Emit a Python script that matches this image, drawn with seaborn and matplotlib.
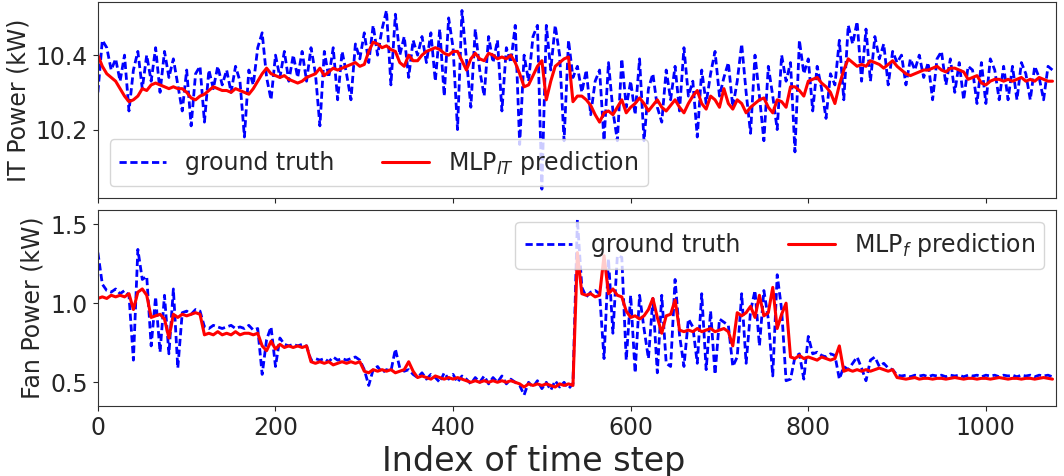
import numpy as np
import matplotlib
matplotlib.use("Agg")
import matplotlib.pyplot as plt
import seaborn as sns

STEP = 5

it_truth = [
    10.30, 10.44, 10.42, 10.36, 10.39, 10.33, 10.40, 10.25, 10.36, 10.41,
    10.31, 10.40, 10.33, 10.42, 10.30, 10.41, 10.34, 10.39, 10.32, 10.25,
    10.36, 10.21, 10.35, 10.37, 10.22, 10.36, 10.31, 10.37, 10.32, 10.36,
    10.30, 10.37, 10.33, 10.18, 10.36, 10.32, 10.42, 10.46, 10.34, 10.28,
    10.40, 10.34, 10.41, 10.33, 10.40, 10.34, 10.41, 10.33, 10.42, 10.35,
    10.21, 10.41, 10.34, 10.42, 10.28, 10.41, 10.35, 10.28, 10.43, 10.39,
    10.46, 10.38, 10.48, 10.40, 10.47, 10.52, 10.32, 10.51, 10.40, 10.45,
    10.34, 10.44, 10.40, 10.45, 10.38, 10.46, 10.33, 10.47, 10.29, 10.50,
    10.42, 10.20, 10.52, 10.39, 10.26, 10.47, 10.36, 10.29, 10.45, 10.38,
    10.44, 10.25, 10.42, 10.38, 10.48, 10.16, 10.40, 10.33, 10.45, 10.48,
    10.04, 10.48, 10.36, 10.48, 10.40, 10.17, 10.44, 10.34, 10.37, 10.30,
    10.36, 10.24, 10.33, 10.36, 10.17, 10.38, 10.25, 10.17, 10.39, 10.26,
    10.33, 10.24, 10.39, 10.17, 10.31, 10.35, 10.26, 10.22, 10.36, 10.28,
    10.37, 10.25, 10.42, 10.29, 10.33, 10.18, 10.36, 10.27, 10.35, 10.41,
    10.29, 10.34, 10.38, 10.26, 10.33, 10.43, 10.30, 10.19, 10.40, 10.29,
    10.17, 10.37, 10.29, 10.20, 10.40, 10.33, 10.38, 10.14, 10.44, 10.35,
    10.39, 10.25, 10.37, 10.31, 10.23, 10.35, 10.32, 10.44, 10.28, 10.48,
    10.43, 10.49, 10.33, 10.47, 10.33, 10.45, 10.39, 10.43, 10.32, 10.41,
    10.38, 10.40, 10.32, 10.39, 10.36, 10.40, 10.34, 10.38, 10.28, 10.39,
    10.41, 10.32, 10.39, 10.30, 10.38, 10.28, 10.37, 10.36, 10.27, 10.38,
    10.27, 10.39, 10.36, 10.28, 10.37, 10.28, 10.37, 10.28, 10.38, 10.35,
    10.28, 10.37, 10.34, 10.28, 10.37, 10.36,
]

it_pred = [
    10.40, 10.37, 10.35, 10.34, 10.33, 10.31, 10.29, 10.275, 10.28, 10.29,
    10.31, 10.305, 10.32, 10.325, 10.32, 10.315, 10.31, 10.315, 10.31, 10.31,
    10.30, 10.285, 10.28, 10.29, 10.295, 10.305, 10.315, 10.31, 10.305, 10.305,
    10.30, 10.31, 10.305, 10.30, 10.295, 10.31, 10.33, 10.35, 10.365, 10.35,
    10.345, 10.34, 10.345, 10.335, 10.33, 10.325, 10.33, 10.34, 10.345, 10.35,
    10.365, 10.345, 10.355, 10.365, 10.36, 10.365, 10.37, 10.375, 10.38, 10.37,
    10.375, 10.41, 10.435, 10.43, 10.42, 10.425, 10.415, 10.41, 10.38, 10.37,
    10.40, 10.385, 10.385, 10.40, 10.41, 10.415, 10.42, 10.415, 10.405, 10.40,
    10.41, 10.41, 10.385, 10.36, 10.39, 10.405, 10.39, 10.385, 10.405, 10.40,
    10.39, 10.395, 10.39, 10.40, 10.38, 10.35, 10.315, 10.32, 10.345, 10.37,
    10.385, 10.28, 10.33, 10.37, 10.38, 10.39, 10.395, 10.275, 10.29, 10.29,
    10.28, 10.265, 10.24, 10.22, 10.245, 10.25, 10.24, 10.26, 10.28, 10.245,
    10.26, 10.27, 10.285, 10.27, 10.25, 10.265, 10.28, 10.26, 10.25, 10.265,
    10.28, 10.26, 10.245, 10.27, 10.29, 10.305, 10.27, 10.255, 10.29, 10.28,
    10.26, 10.31, 10.27, 10.255, 10.28, 10.27, 10.245, 10.26, 10.27, 10.28,
    10.285, 10.26, 10.245, 10.28, 10.275, 10.26, 10.315, 10.315, 10.305, 10.29,
    10.33, 10.335, 10.34, 10.325, 10.315, 10.30, 10.27, 10.32, 10.36, 10.39,
    10.38, 10.37, 10.375, 10.37, 10.385, 10.38, 10.375, 10.365, 10.375, 10.385,
    10.37, 10.36, 10.35, 10.345, 10.35, 10.355, 10.36, 10.36, 10.365, 10.37,
    10.36, 10.355, 10.365, 10.365, 10.36, 10.355, 10.335, 10.34, 10.345, 10.325,
    10.32, 10.33, 10.335, 10.335, 10.33, 10.335, 10.33, 10.335, 10.34, 10.33,
    10.335, 10.33, 10.34, 10.335, 10.33, 10.33,
]

fan_truth = [
    1.32, 1.12, 1.08, 1.07, 1.09, 1.06, 1.08, 1.05, 0.64, 1.34,
    1.15, 1.17, 0.73, 1.04, 0.69, 1.05, 0.68, 1.09, 0.59, 0.94,
    0.95, 0.93, 0.96, 0.95, 0.85, 0.84, 0.86, 0.85, 0.84, 0.85,
    0.86, 0.84, 0.85, 0.84, 0.86, 0.83, 0.84, 0.55, 0.77, 0.85,
    0.60, 0.78, 0.74, 0.73, 0.74, 0.73, 0.74, 0.73, 0.64, 0.65,
    0.64, 0.65, 0.63, 0.66, 0.64, 0.65, 0.64, 0.65, 0.66, 0.64,
    0.58, 0.48, 0.58, 0.60, 0.56, 0.58, 0.57, 0.71, 0.59, 0.57,
    0.58, 0.55, 0.53, 0.56, 0.52, 0.55, 0.53, 0.50, 0.56, 0.52,
    0.55, 0.50, 0.54, 0.52, 0.49, 0.53, 0.50, 0.54, 0.49, 0.53,
    0.50, 0.54, 0.49, 0.52, 0.50, 0.48, 0.42, 0.50, 0.47, 0.51,
    0.46, 0.50, 0.45, 0.51, 0.47, 0.50, 0.46, 0.49, 1.53, 1.10,
    1.04, 1.07, 1.08, 1.06, 0.65, 1.28, 0.81, 1.30, 1.29, 0.64,
    1.05, 0.56, 1.05, 0.84, 0.65, 1.03, 0.56, 1.05, 0.62, 0.60,
    1.15, 0.80, 0.60, 0.90, 0.85, 0.62, 1.06, 0.58, 0.95, 0.55,
    0.90, 0.88, 0.86, 0.60, 0.66, 1.06, 0.62, 0.95, 1.08, 0.73,
    1.08, 0.90, 0.54, 1.18, 0.96, 0.51, 0.52, 0.66, 0.68, 0.52,
    0.79, 0.68, 0.69, 0.67, 0.66, 0.68, 0.67, 0.52, 0.60, 0.58,
    0.62, 0.66, 0.59, 0.51, 0.64, 0.66, 0.60, 0.62, 0.59, 0.58,
    0.545, 0.54, 0.545, 0.535, 0.545, 0.54, 0.545, 0.535, 0.545, 0.54,
    0.545, 0.535, 0.545, 0.54, 0.545, 0.535, 0.545, 0.54, 0.545, 0.535,
    0.545, 0.54, 0.545, 0.535, 0.545, 0.54, 0.545, 0.535, 0.545, 0.54,
    0.545, 0.535, 0.545, 0.54, 0.545, 0.535,
]

fan_pred = [
    1.03, 1.04, 1.03, 1.05, 1.04, 1.05, 1.04, 1.06, 0.96, 1.07,
    1.09, 1.05, 0.91, 0.92, 0.93, 0.90, 0.78, 0.93, 0.91, 0.93,
    0.92, 0.93, 0.94, 0.93, 0.80, 0.81, 0.80, 0.82, 0.80, 0.81,
    0.80, 0.82, 0.80, 0.81, 0.81, 0.80, 0.81, 0.73, 0.70, 0.76,
    0.71, 0.74, 0.72, 0.73, 0.72, 0.73, 0.72, 0.73, 0.63, 0.62,
    0.63, 0.62, 0.63, 0.61, 0.62, 0.63, 0.62, 0.63, 0.62, 0.63,
    0.57, 0.56, 0.58, 0.57, 0.58, 0.57, 0.58, 0.56, 0.57, 0.58,
    0.63, 0.57, 0.53, 0.54, 0.53, 0.52, 0.54, 0.53, 0.52, 0.53,
    0.52, 0.53, 0.52, 0.51, 0.50, 0.51, 0.50, 0.51, 0.50, 0.51,
    0.50, 0.51, 0.50, 0.51, 0.50, 0.49, 0.47, 0.49, 0.48, 0.49,
    0.48, 0.49, 0.48, 0.47, 0.49, 0.48, 0.49, 0.48, 1.32, 1.06,
    1.05, 1.06, 1.04, 1.05, 1.30, 1.06, 1.09, 1.05, 1.04, 0.95,
    0.91, 0.92, 0.90, 0.92, 0.96, 1.03, 0.91, 0.81, 0.92, 0.93,
    1.02, 0.83, 0.82, 0.83, 0.82, 0.84, 0.82, 0.83, 0.84, 0.82,
    0.83, 0.84, 0.82, 0.73, 0.94, 0.92, 0.94, 0.98, 0.91, 1.05,
    0.92, 0.94, 1.10, 0.84, 0.93, 1.00, 0.66, 0.65, 0.67, 0.65,
    0.66, 0.65, 0.64, 0.66, 0.65, 0.64, 0.65, 0.73, 0.57, 0.58,
    0.57, 0.58, 0.57, 0.58, 0.57, 0.58, 0.59, 0.58, 0.57, 0.58,
    0.53, 0.525, 0.52, 0.525, 0.53, 0.52, 0.525, 0.525, 0.52, 0.525,
    0.525, 0.52, 0.525, 0.53, 0.525, 0.52, 0.525, 0.525, 0.52, 0.525,
    0.525, 0.52, 0.525, 0.53, 0.525, 0.52, 0.525, 0.525, 0.52, 0.525,
    0.525, 0.52, 0.525, 0.53, 0.525, 0.52,
]

sns.set_style("ticks")
plt.rcParams["font.family"] = ["DejaVu Sans"]
plt.rcParams["font.size"] = 17

fig, (ax1, ax2) = plt.subplots(2, 1, figsize=(10.64, 4.76), dpi=100, sharex=True)
fig.subplots_adjust(left=0.092, right=0.9925, top=0.996, bottom=0.147, hspace=0.06)


def draw(ax, truth, pred, pred_label):
    x = np.arange(len(truth)) * STEP
    sns.lineplot(x=x, y=truth, ax=ax, color="blue", lw=2.0, ls="--",
                 label="ground truth")
    ax.lines[-1].set_dashes([2.6, 1.3])
    x = np.arange(len(pred)) * STEP
    sns.lineplot(x=x, y=pred, ax=ax, color="red", lw=2.2, label=pred_label)


draw(ax1, it_truth, it_pred, r"MLP$_{IT}$ prediction")
ax1.set_ylim(10.016, 10.543)
ax1.set_yticks([10.2, 10.4])
ax1.set_ylabel("IT Power (kW)", fontsize=17)
ax1.legend(loc="lower left", ncol=2, fontsize=17)

draw(ax2, fan_truth, fan_pred, r"MLP$_f$ prediction")
ax2.set_ylim(0.35, 1.59)
ax2.set_yticks([0.5, 1.0, 1.5])
ax2.set_ylabel("Fan Power (kW)", fontsize=17)
ax2.legend(loc="upper right", ncol=2, fontsize=17)

ax2.set_xlim(0, 1079)
ax2.set_xticks([0, 200, 400, 600, 800, 1000])
ax2.set_xlabel("")
# x label is centred on the figure and runs off the bottom edge
fig.text(0.502, 0.011, "Index of time step", fontsize=24,
         ha="center", va="baseline")

for ax in (ax1, ax2):
    ax.tick_params(labelsize=17)
    for s in ax.spines.values():
        s.set_color("#333333")

fig.savefig("out.png", dpi=100)
